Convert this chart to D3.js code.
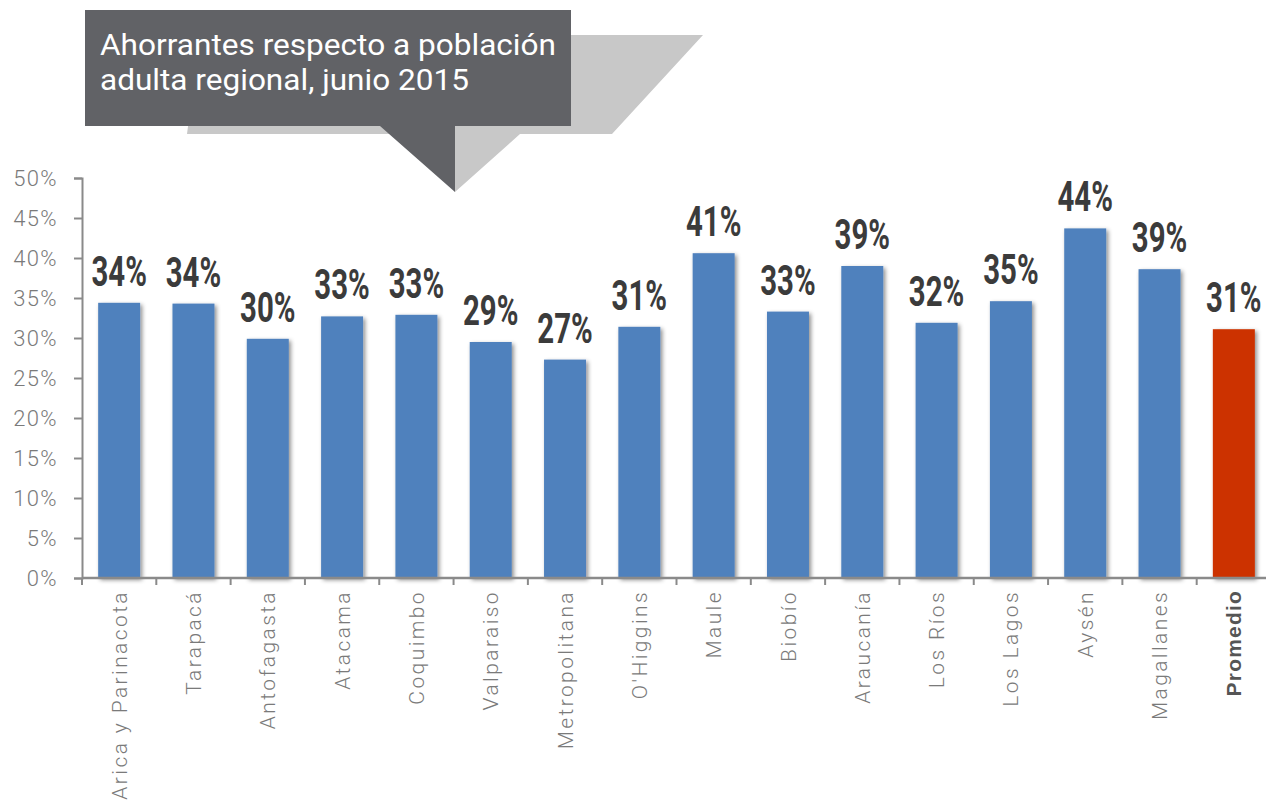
<!DOCTYPE html>
<html>
<head>
<meta charset="utf-8">
<script src="https://cdn.jsdelivr.net/npm/d3@7"></script>
<style>
  body { margin: 0; background: #fff; }
  svg { display: block; }
</style>
</head>
<body>
<div id="chart"></div>
<script>
const regions = ['Arica y Parinacota', 'Tarapacá', 'Antofagasta', 'Atacama', 'Coquimbo', 'Valparaiso',
  'Metropolitana', "O'Higgins", 'Maule', 'Biobío', 'Araucanía', 'Los Ríos', 'Los Lagos', 'Aysén',
  'Magallanes', 'Promedio'];
const shares = [34.4, 34.3, 29.9, 32.7, 32.9, 29.5, 27.3, 31.4, 40.6, 33.3, 39.0, 31.9, 34.6, 43.7, 38.6, 31.1];
const shareLabels = ['34%', '34%', '30%', '33%', '33%', '29%', '27%', '31%', '41%', '33%', '39%', '32%',
  '35%', '44%', '39%', '31%'];
const yTicks = [0, 5, 10, 15, 20, 25, 30, 35, 40, 45, 50];
const titleLines = ['Ahorrantes respecto a población', 'adulta regional, junio 2015'];

const W = 1266, H = 801;
const svg = d3.select('#chart').append('svg').attr('width', W).attr('height', H);

// soft shadow under the bars
const defs = svg.append('defs');
const f = defs.append('filter').attr('id', 'barShadow')
  .attr('x', '-20%').attr('y', '-5%').attr('width', '150%').attr('height', '115%');
f.append('feDropShadow').attr('dx', 2).attr('dy', 2).attr('stdDeviation', 2)
  .attr('flood-color', '#000').attr('flood-opacity', 0.45);

const x = d3.scaleBand().domain(regions).range([82, 1271])
  .paddingInner(0.435).paddingOuter(0.2175);
const y = d3.scaleLinear().domain([0, 50]).range([578, 178]);

const axisColor = '#8a8a8a';
const lightFont = 'Roboto, "Open Sans", sans-serif';

// y axis
const yAxis = svg.append('g').attr('transform', 'translate(82,0)')
  .call(d3.axisLeft(y).tickValues(yTicks).tickSize(8).tickPadding(16).tickFormat(d => d + '%'));
yAxis.select('.domain').attr('stroke', axisColor).attr('stroke-width', 2);
yAxis.selectAll('.tick line').attr('stroke', axisColor).attr('stroke-width', 2);
yAxis.selectAll('.tick text')
  .attr('font-family', lightFont).attr('font-weight', 300)
  .attr('font-size', 22).attr('letter-spacing', 1.4).attr('fill', '#7a7a7a');

// bars
svg.append('g').selectAll('rect').data(regions).join('rect')
  .attr('x', d => x(d))
  .attr('y', (d, i) => y(shares[i]))
  .attr('width', x.bandwidth())
  .attr('height', (d, i) => y(0) - y(shares[i]))
  .attr('fill', d => d === 'Promedio' ? '#cc3300' : '#4f81bd')
  .attr('filter', 'url(#barShadow)');

// x axis line and ticks between categories
svg.append('line').attr('x1', 82).attr('x2', W).attr('y1', y(0)).attr('y2', y(0))
  .attr('stroke', axisColor).attr('stroke-width', 2.5);
const bounds = regions.map(d => x(d) - x.step() * x.paddingInner() / 2);
svg.append('g').selectAll('line').data(bounds).join('line')
  .attr('x1', d => d).attr('x2', d => d)
  .attr('y1', y(0)).attr('y2', y(0) + 7)
  .attr('stroke', axisColor).attr('stroke-width', 2);

// rotated category labels
svg.append('g').selectAll('text').data(regions).join('text')
  .attr('transform', d => `translate(${x(d) + x.bandwidth() / 2},590) rotate(-90)`)
  .attr('text-anchor', 'end').attr('dy', '0.36em')
  .attr('font-family', d => d === 'Promedio' ? 'Arial, "Liberation Sans", sans-serif' : lightFont)
  .attr('font-weight', d => d === 'Promedio' ? 700 : 300)
  .attr('font-size', 21)
  .attr('letter-spacing', d => d === 'Promedio' ? 1.2 : 2.4)
  .attr('fill', d => d === 'Promedio' ? '#555' : '#7a7a7a')
  .text(d => d);

// value labels above bars (squeezed horizontally to look condensed)
svg.append('g').selectAll('text').data(regions).join('text')
  .attr('transform', (d, i) => `translate(${x(d) + x.bandwidth() / 2},${y(shares[i]) - 17}) scale(0.7,1)`)
  .attr('text-anchor', 'middle')
  .attr('font-family', 'Roboto, sans-serif').attr('font-weight', 700)
  .attr('font-size', 42).attr('fill', '#3b3b3b')
  .text((d, i) => shareLabels[i]);

// speech bubble title (shadow first, then box)
svg.append('path')
  .attr('d', 'M200,35 L703,35 L612,134 L520,134 L455,192 L445,134 L187,134 Z')
  .attr('fill', '#c8c8c8');
svg.append('path')
  .attr('d', 'M85,10 L571,10 L571,126 L455,126 L455,192 L380,126 L85,126 Z')
  .attr('fill', '#616266');
svg.append('g').selectAll('text').data(titleLines).join('text')
  .attr('x', 100).attr('y', (d, i) => 55 + i * 35)
  .attr('font-family', 'Roboto, sans-serif').attr('font-weight', 400)
  .attr('font-size', 30).attr('fill', '#fff')
  .attr('textLength', (d, i) => i === 0 ? 456 : 369).attr('lengthAdjust', 'spacingAndGlyphs')
  .text(d => d);
</script>
</body>
</html>
